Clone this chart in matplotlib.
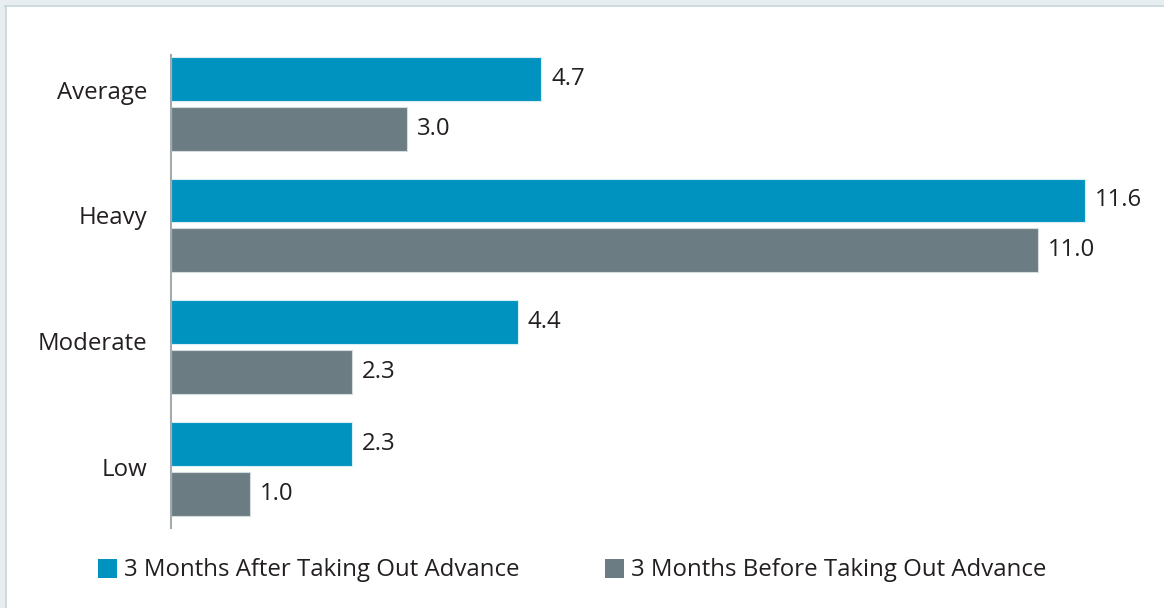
import matplotlib
matplotlib.use("Agg")
import matplotlib.pyplot as plt
from matplotlib.patches import Rectangle
import numpy as np

categories = ["Average", "Heavy", "Moderate", "Low"]
after_vals = [4.7, 11.6, 4.4, 2.3]
before_vals = [3.0, 11.0, 2.3, 1.0]
series_names = ["3 Months After Taking Out Advance", "3 Months Before Taking Out Advance"]

BLUE = "#0093c0"
GRAY = "#6b7c82"
TEXT = "#231f20"
FS = 17.3

plt.rcParams["font.family"] = ["Open Sans", "DejaVu Sans"]

W, H = 1164, 608
fig = plt.figure(figsize=(W / 100, H / 100), dpi=100)
fig.patch.set_facecolor("white")

# light frame on the top and left edges
fig.add_artist(Rectangle((0, 1 - 5 / H), 1, 5 / H, transform=fig.transFigure,
                         facecolor="#e8edf0", edgecolor="none", zorder=0))
fig.add_artist(Rectangle((0, 0), 5 / W, 1, transform=fig.transFigure,
                         facecolor="#e8edf0", edgecolor="none", zorder=0))
fig.add_artist(plt.Line2D([5 / W, 1], [1 - 5.5 / H, 1 - 5.5 / H], transform=fig.transFigure,
                          color="#c4d4dc", lw=1.2))
fig.add_artist(plt.Line2D([5.5 / W, 5.5 / W], [0, 1 - 5.5 / H], transform=fig.transFigure,
                          color="#c4d4dc", lw=1.2))

left, right, top, bottom = 171, 1150, 55, 528
ax = fig.add_axes([left / W, 1 - bottom / H, (right - left) / W, (bottom - top) / H])
ax.set_facecolor("none")

y = np.arange(len(categories))
h = 0.36
off = 0.205
ax.barh(y - off, after_vals, height=h, color=BLUE, edgecolor="#d8eef5", linewidth=0.8)
ax.barh(y + off, before_vals, height=h, color=GRAY, edgecolor="#d5dcde", linewidth=0.8)

x_per_px = 11.6 / (1085 - left)
ax.set_xlim(0, (right - left) * x_per_px)
ax.set_ylim(3.485, -0.40)

for yi, v in zip(y - off, after_vals):
    ax.text(v + 10 * x_per_px, yi, f"{v:.1f}", va="center", ha="left", fontsize=FS, color=TEXT)
for yi, v in zip(y + off, before_vals):
    ax.text(v + 10 * x_per_px, yi, f"{v:.1f}", va="center", ha="left", fontsize=FS, color=TEXT)

# category labels sit a little above each group's centre
ax.set_yticks(y * 1.033 - 0.115)
ax.set_yticklabels(categories, fontsize=FS, color=TEXT)
ax.tick_params(axis="y", length=0, pad=17)
ax.set_xticks([])
for s in ["top", "right", "bottom"]:
    ax.spines[s].set_visible(False)
ax.spines["left"].set_color("#a3abaf")
ax.spines["left"].set_linewidth(1.5)

# legend
sq = 19
for x0, col, name in [(98, BLUE, series_names[0]), (605, GRAY, series_names[1])]:
    fig.add_artist(Rectangle((x0 / W, 1 - 578 / H), sq / W, sq / H, transform=fig.transFigure,
                             facecolor=col, edgecolor="none"))
    fig.text((x0 + 26) / W, 1 - 570.5 / H, name, fontsize=FS, color=TEXT, va="center", ha="left")

fig.savefig("out.png", dpi=100)
